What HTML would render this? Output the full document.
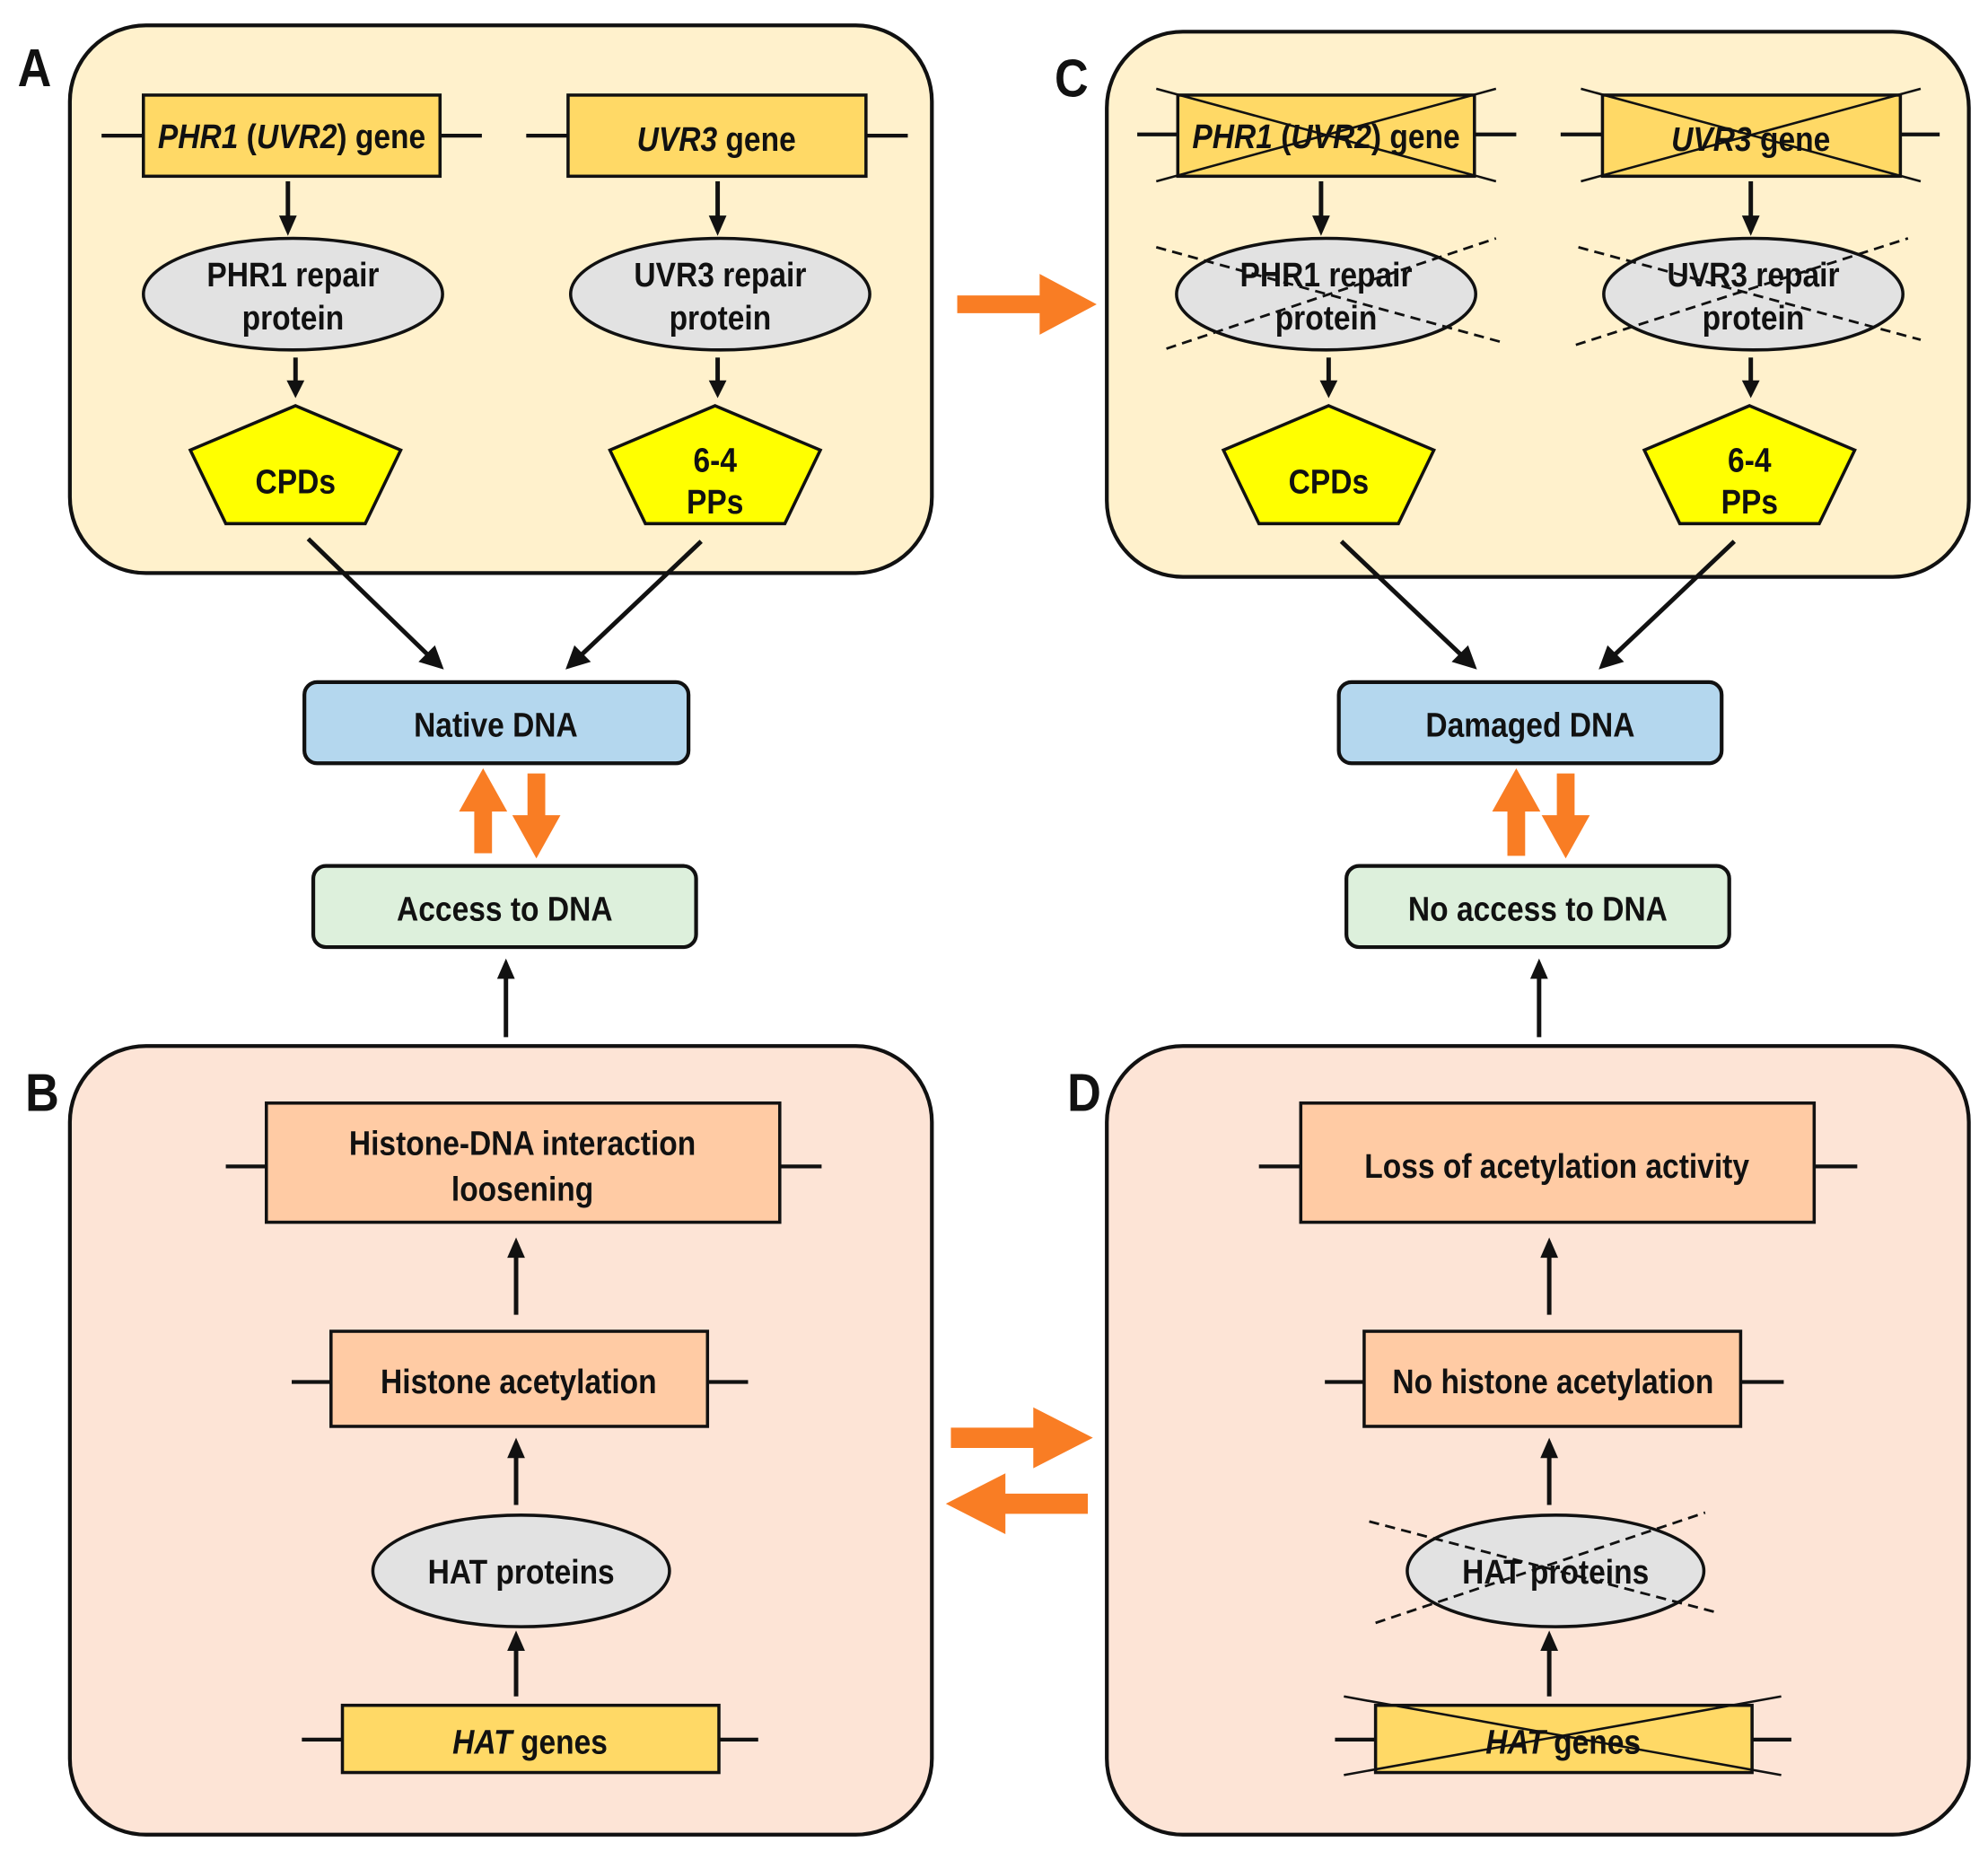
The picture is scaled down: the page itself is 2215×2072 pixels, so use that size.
<!DOCTYPE html>
<html><head><meta charset="utf-8"><style>
html,body{margin:0;padding:0;background:#fff}
svg{display:block}
text{font-family:"Liberation Sans Narrow","Liberation Sans",sans-serif;font-weight:bold;fill:#111;transform-box:fill-box;transform-origin:center;transform:scaleX(0.88)}
</style></head><body>
<svg width="2215" height="2072" viewBox="0 0 1568 1467" xmlns="http://www.w3.org/2000/svg">
<!-- panels -->
<rect x="55" y="20" width="680" height="432" rx="60" fill="#FFF1CC" stroke="#111" stroke-width="3"/>
<rect x="873" y="25" width="680" height="430" rx="60" fill="#FFF1CC" stroke="#111" stroke-width="3"/>
<rect x="55" y="825" width="680" height="622" rx="60" fill="#FDE4D6" stroke="#111" stroke-width="3"/>
<rect x="873" y="825" width="680" height="622" rx="60" fill="#FDE4D6" stroke="#111" stroke-width="3"/>
<g style="font-size:42px">
<text x="12" y="68">A</text><text x="830" y="76">C</text>
<text x="18" y="876">B</text><text x="840" y="876">D</text>
</g>

<g stroke="#111" stroke-width="3" fill="none">
<line x1="80" y1="107" x2="113" y2="107"/><line x1="347" y1="107" x2="380" y2="107"/>
<line x1="415" y1="107" x2="448" y2="107"/><line x1="683" y1="107" x2="716" y2="107"/>
<line x1="897" y1="106" x2="929" y2="106"/><line x1="1163" y1="106" x2="1196" y2="106"/>
<line x1="1231" y1="106" x2="1264" y2="106"/><line x1="1499" y1="106" x2="1530" y2="106"/>
<line x1="178" y1="920" x2="210" y2="920"/><line x1="615" y1="920" x2="648" y2="920"/>
<line x1="230" y1="1090" x2="261" y2="1090"/><line x1="558" y1="1090" x2="590" y2="1090"/>
<line x1="238" y1="1372" x2="270" y2="1372"/><line x1="567" y1="1372" x2="598" y2="1372"/>
<line x1="993" y1="920" x2="1026" y2="920"/><line x1="1431" y1="920" x2="1465" y2="920"/>
<line x1="1045" y1="1090" x2="1076" y2="1090"/><line x1="1373" y1="1090" x2="1407" y2="1090"/>
<line x1="1053" y1="1372" x2="1085" y2="1372"/><line x1="1382" y1="1372" x2="1413" y2="1372"/>
</g>

<g stroke="#111" stroke-width="2.5">
<rect x="113" y="75" width="234" height="64" fill="#FFD966"/>
<rect x="448" y="75" width="235" height="64" fill="#FFD966"/>
<rect x="929" y="75" width="234" height="64" fill="#FFD966"/>
<rect x="1264" y="75" width="235" height="64" fill="#FFD966"/>
<ellipse cx="231" cy="232" rx="118" ry="44" fill="#E2E2E2"/>
<ellipse cx="568" cy="232" rx="118" ry="44" fill="#E2E2E2"/>
<ellipse cx="1046" cy="232" rx="118" ry="44" fill="#E2E2E2"/>
<ellipse cx="1383" cy="232" rx="118" ry="44" fill="#E2E2E2"/>
<polygon points="233,320 316,355 288,413 178,413 150,355" fill="#FFFF00"/>
<polygon points="564,320 647,355 619,413 509,413 481,355" fill="#FFFF00"/>
<polygon points="1048,320 1131,355 1103,413 993,413 965,355" fill="#FFFF00"/>
<polygon points="1380,320 1463,355 1435,413 1325,413 1297,355" fill="#FFFF00"/>
<rect x="240" y="538" width="303" height="64" rx="10" fill="#B4D7EE" stroke-width="3"/>
<rect x="1056" y="538" width="302" height="64" rx="10" fill="#B4D7EE" stroke-width="3"/>
<rect x="247" y="683" width="302" height="64" rx="10" fill="#DDF0DC" stroke-width="3"/>
<rect x="1062" y="683" width="302" height="64" rx="10" fill="#DDF0DC" stroke-width="3"/>
<rect x="210" y="870" width="405" height="94" fill="#FFCBA4"/>
<rect x="261" y="1050" width="297" height="75" fill="#FFCBA4"/>
<ellipse cx="411" cy="1239" rx="117" ry="44" fill="#E2E2E2"/>
<rect x="270" y="1345" width="297" height="53" fill="#FFD966"/>
<rect x="1026" y="870" width="405" height="94" fill="#FFCBA4"/>
<rect x="1076" y="1050" width="297" height="75" fill="#FFCBA4"/>
<ellipse cx="1227" cy="1239" rx="117" ry="44" fill="#E2E2E2"/>
<rect x="1085" y="1345" width="297" height="53" fill="#FFD966"/>
</g>

<g style="font-size:27px" text-anchor="middle">
<text x="230" y="117"><tspan font-style="italic">PHR1</tspan> (<tspan font-style="italic">UVR2</tspan>) gene</text>
<text x="565" y="119"><tspan font-style="italic">UVR3</tspan> gene</text>
<text x="1046" y="117"><tspan font-style="italic">PHR1</tspan> (<tspan font-style="italic">UVR2</tspan>) gene</text>
<text x="1381" y="119"><tspan font-style="italic">UVR3</tspan> gene</text>
<text x="231" y="226">PHR1 repair</text><text x="231" y="260">protein</text>
<text x="568" y="226">UVR3 repair</text><text x="568" y="260">protein</text>
<text x="1046" y="226">PHR1 repair</text><text x="1046" y="260">protein</text>
<text x="1383" y="226">UVR3 repair</text><text x="1383" y="260">protein</text>
<text x="233" y="389">CPDs</text>
<text x="564" y="372">6-4</text><text x="564" y="405">PPs</text>
<text x="1048" y="389">CPDs</text>
<text x="1380" y="372">6-4</text><text x="1380" y="405">PPs</text>
<text x="391" y="581">Native DNA</text>
<text x="1207" y="581">Damaged DNA</text>
<text x="398" y="726">Access to DNA</text>
<text x="1213" y="726">No access to DNA</text>
<text x="412" y="911">Histone-DNA interaction</text><text x="412" y="947">loosening</text>
<text x="409" y="1099">Histone acetylation</text>
<text x="411" y="1249">HAT proteins</text>
<text x="418" y="1383"><tspan font-style="italic">HAT</tspan> genes</text>
<text x="1228" y="929">Loss of acetylation activity</text>
<text x="1225" y="1099">No histone acetylation</text>
<text x="1227" y="1249">HAT proteins</text>
<text x="1233" y="1383"><tspan font-style="italic">HAT</tspan> genes</text>
</g>

<g stroke="#111" stroke-width="1.8" fill="none">
<line x1="912" y1="70" x2="1180" y2="143"/><line x1="912" y1="143" x2="1180" y2="70"/>
<line x1="1247" y1="70" x2="1515" y2="143"/><line x1="1247" y1="143" x2="1515" y2="70"/>
<line x1="1060" y1="1338" x2="1405" y2="1400"/><line x1="1060" y1="1400" x2="1405" y2="1338"/>
</g>
<g stroke="#111" stroke-width="2" stroke-dasharray="8,5" fill="none">
<line x1="912" y1="195" x2="1185" y2="270"/><line x1="920" y1="275" x2="1180" y2="188"/>
<line x1="1245" y1="195" x2="1515" y2="268"/><line x1="1243" y1="272" x2="1505" y2="188"/>
<line x1="1080" y1="1200" x2="1355" y2="1272"/><line x1="1085" y1="1280" x2="1345" y2="1193"/>
</g>

<g stroke="#111" stroke-width="3.5" fill="#111">
<line x1="227" y1="143" x2="227" y2="172"/><polygon points="220,170 234,170 227,186" stroke="none"/>
<line x1="566" y1="143" x2="566" y2="172"/><polygon points="559,170 573,170 566,186" stroke="none"/>
<line x1="233" y1="282" x2="233" y2="302"/><polygon points="226,300 240,300 233,314" stroke="none"/>
<line x1="566" y1="282" x2="566" y2="302"/><polygon points="559,300 573,300 566,314" stroke="none"/>
<line x1="1042" y1="143" x2="1042" y2="172"/><polygon points="1035,170 1049,170 1042,186" stroke="none"/>
<line x1="1381" y1="143" x2="1381" y2="172"/><polygon points="1374,170 1388,170 1381,186" stroke="none"/>
<line x1="1048" y1="282" x2="1048" y2="302"/><polygon points="1041,300 1055,300 1048,314" stroke="none"/>
<line x1="1381" y1="282" x2="1381" y2="302"/><polygon points="1374,300 1388,300 1381,314" stroke="none"/>
<line x1="243" y1="425" x2="338" y2="517"/><polygon points="350,528 330,522 343,509" stroke="none"/>
<line x1="553" y1="427" x2="458" y2="517"/><polygon points="446,528 453,509 466,522" stroke="none"/>
<line x1="1058" y1="427" x2="1153" y2="517"/><polygon points="1165,528 1145,522 1158,509" stroke="none"/>
<line x1="1368" y1="427" x2="1273" y2="517"/><polygon points="1261,528 1268,509 1281,522" stroke="none"/>
<line x1="399" y1="818" x2="399" y2="770"/><polygon points="392,772 406,772 399,756" stroke="none"/>
<line x1="1214" y1="818" x2="1214" y2="770"/><polygon points="1207,772 1221,772 1214,756" stroke="none"/>
<line x1="407" y1="1037" x2="407" y2="990"/><polygon points="400,992 414,992 407,976" stroke="none"/>
<line x1="407" y1="1187" x2="407" y2="1148"/><polygon points="400,1150 414,1150 407,1134" stroke="none"/>
<line x1="407" y1="1338" x2="407" y2="1300"/><polygon points="400,1302 414,1302 407,1286" stroke="none"/>
<line x1="1222" y1="1037" x2="1222" y2="990"/><polygon points="1215,992 1229,992 1222,976" stroke="none"/>
<line x1="1222" y1="1187" x2="1222" y2="1148"/><polygon points="1215,1150 1229,1150 1222,1134" stroke="none"/>
<line x1="1222" y1="1338" x2="1222" y2="1300"/><polygon points="1215,1302 1229,1302 1222,1286" stroke="none"/>
</g>

<g fill="#F97D24">
<polygon points="755,233 820,233 820,216 865,240 820,264 820,247 755,247"/>
<polygon points="750,1126 815,1126 815,1110 862,1134 815,1158 815,1142 750,1142"/>
<polygon points="858,1178 793,1178 793,1162 746,1186 793,1210 793,1194 858,1194"/>
<polygon points="374,673 374,640 362,640 381,606 400,640 388,640 388,673"/>
<polygon points="416,610 416,643 404,643 423,677 442,643 430,643 430,610"/>
<polygon points="1189,675 1189,640 1177,640 1196,606 1215,640 1203,640 1203,675"/>
<polygon points="1228,610 1228,643 1216,643 1235,677 1254,643 1242,643 1242,610"/>
</g>
</svg>
</body></html>
